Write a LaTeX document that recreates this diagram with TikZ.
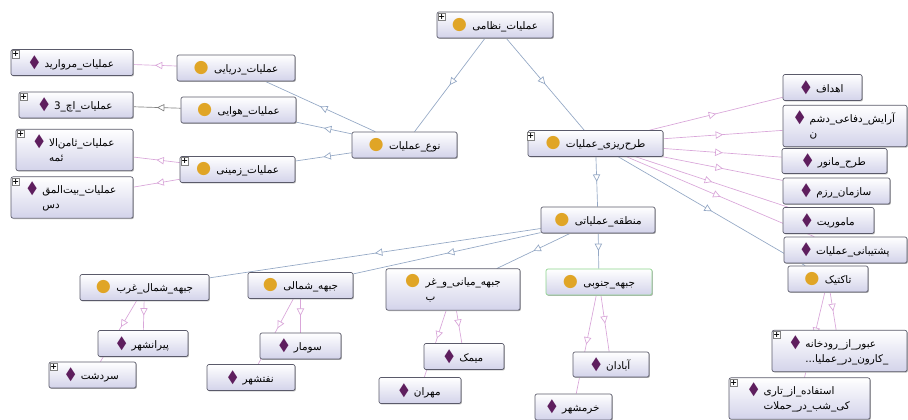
\documentclass[tikz,border=0pt]{standalone}
\usepackage{fontspec}
\usepackage{graphicx}
\usetikzlibrary{arrows.meta,decorations.markings,backgrounds,shadows}
\TeXXeTstate=1
\newfontfamily\arabicfont[Script=Arabic]{DejaVu Sans}
\newfontfamily\symfont{DejaVu Sans}
\definecolor{boxlav}{HTML}{D3D3EA}
\definecolor{boxline}{HTML}{5A5A6A}
\definecolor{clsgold}{HTML}{E0A526}
\definecolor{indplum}{HTML}{5E1E5E}
\definecolor{isablue}{HTML}{93A7C4}
\definecolor{ispink}{HTML}{D9A6D9}
\definecolor{southgreen}{HTML}{8CD48C}
\newcommand{\rtltext}[1]{\beginR#1\endR}
\newcommand{\twolines}[2]{\begin{tabular}[t]{@{}l@{}}\rtltext{#1}\\\rtltext{#2}\end{tabular}}
\newcommand{\clsicon}{{\symfont\fontsize{13}{13}\selectfont\textcolor{clsgold}{●}}\hspace{4pt}}
\newcommand{\indicon}{{\symfont\fontsize{12}{12}\selectfont\textcolor{indplum}{\scalebox{0.75}[1.15]{◆}}}\hspace{4pt}}
\tikzstyle{box}=[rectangle,
                 draw=boxline,
                 line width=0.5pt,
                 rounded corners=1.5pt,
                 top color=white,
                 bottom color=boxlav,
                 inner sep=2pt,
                 minimum height=19.5pt,
                 font=\arabicfont\fontsize{7.8}{11}\selectfont,
                 general shadow={shadow xshift=0.7pt, shadow yshift=-0.7pt, fill=black!30}]
\tikzstyle{cls}=[box]
\tikzstyle{ind}=[box]
\tikzstyle{tall}=[minimum height=31pt]
\tikzstyle{expander}=[rectangle,
                      draw=gray,
                      fill=white,
                      line width=0.4pt,
                      minimum size=5.5pt,
                      inner sep=0pt,
                      font=\symfont\bfseries\fontsize{6}{6}\selectfont]
\tikzset{isa/.style={color=isablue, line width=0.5pt, postaction={decorate},
                     decoration={markings, mark=at position #1 with
                       {\arrow{Triangle[length=5.5pt,width=5.5pt,fill=white]}}}},
         isa/.default=0.5,
         member/.style={isa=#1, color=ispink},
         member/.default=0.5}

\begin{document}
\begin{tikzpicture}[x=0.75pt,y=-0.75pt]
  \useasboundingbox (0,0) rectangle (908,420);

  % classes
  \node[cls, minimum width=87pt]     (mil)       at (495,25)    {\clsicon\rtltext{عملیات\_نظامی}};
  \node[cls, minimum width=78.75pt]  (kind)      at (404.5,145) {\clsicon\rtltext{نوع\_عملیات}};
  \node[cls, minimum width=101.25pt] (plan)      at (595.5,143.5) {\clsicon\rtltext{طرح‌ریزی\_عملیات}};
  \node[cls, minimum width=88.5pt]   (sea)       at (236,68)    {\clsicon\rtltext{عملیات\_دریایی}};
  \node[cls, minimum width=86.25pt]  (air)       at (238.5,110) {\clsicon\rtltext{عملیات\_هوایی}};
  \node[cls, minimum width=86.25pt]  (land)      at (237.5,169.5) {\clsicon\rtltext{عملیات\_زمینی}};
  \node[cls, minimum width=60pt]     (tactic)    at (828,279)   {\clsicon\rtltext{تاکتیک}};
  \node[cls, minimum width=85.5pt]   (zone)      at (598,220)   {\clsicon\rtltext{منطقه\_عملیاتی}};
  \node[cls, minimum width=79.5pt, draw=southgreen] (south) at (599,282) {\clsicon\rtltext{جبهه\_جنوبی}};
  \node[cls, tall, minimum width=100.5pt] (middle) at (453,289.5) {\clsicon\twolines{جبهه\_میانی\_و\_غر}{ب}};
  \node[cls, minimum width=78.75pt]  (north)     at (300.5,285.5) {\clsicon\rtltext{جبهه\_شمالی}};
  \node[cls, minimum width=96.75pt]  (northwest) at (144.5,287.5) {\clsicon\rtltext{جبهه\_شمال\_غرب}};

  % individuals
  \node[ind, minimum width=91.5pt]        (pearl)    at (72,62.5)   {\indicon\rtltext{عملیات\_مروارید}};
  \node[ind, minimum width=85.5pt]        (h3)       at (76,105)    {\indicon\rtltext{عملیات\_اچ\_3}};
  \node[ind, tall, minimum width=87.75pt] (samen)    at (74.5,150)  {\indicon\twolines{عملیات\_ثامن‌الا}{ئمه}};
  \node[ind, tall, minimum width=91.5pt]  (beit)     at (72,197.5)  {\indicon\twolines{عملیات\_بیت‌المق}{دس}};
  \node[ind, minimum width=59.25pt]       (goals)    at (822.5,87.5) {\indicon\rtltext{اهداف}};
  \node[ind, tall, minimum width=93pt]    (enemy)    at (845,126)   {\indicon\twolines{آرایش\_دفاعی\_دشم}{ن}};
  \node[ind, minimum width=78.75pt, minimum height=18.75pt] (maneuver) at (834.5,161) {\indicon\rtltext{طرح\_مانور}};
  \node[ind, minimum width=80.25pt]       (order)    at (836.5,191) {\indicon\rtltext{سازمان\_رزم}};
  \node[ind, minimum width=68.25pt]       (mission)  at (828.5,220.5) {\indicon\rtltext{ماموریت}};
  \node[ind, minimum width=92.25pt]       (support)  at (845.5,250) {\indicon\rtltext{پشتیبانی\_عملیات}};
  \node[ind, tall, minimum width=101.25pt] (crossing) at (839.5,351) {\indicon\twolines{عبور\_از\_رودخانه}{\_کارون\_در\_عملیا...}};
  \node[ind, tall, minimum width=105.75pt] (night)   at (799.5,398.5) {\indicon\twolines{استفاده\_از\_تاری}{کی\_شب\_در\_حملات}};
  \node[ind, minimum width=67.5pt]        (piran)    at (143,343.5) {\indicon\rtltext{پیرانشهر}};
  \node[ind, minimum width=65.25pt]       (sardasht) at (92.5,375)  {\indicon\rtltext{سردشت}};
  \node[ind, minimum width=60.75pt]       (sumar)    at (300.5,346) {\indicon\rtltext{سومار}};
  \node[ind, minimum width=66pt]          (naft)     at (251,377.5) {\indicon\rtltext{نفتشهر}};
  \node[ind, minimum width=60pt]          (mimak)    at (464,356.5) {\indicon\rtltext{میمک}};
  \node[ind, minimum width=61.5pt]        (mehran)   at (420,390.5) {\indicon\rtltext{مهران}};
  \node[ind, minimum width=57pt, minimum height=18.75pt] (abadan) at (611,364.5) {\indicon\rtltext{آبادان}};
  \node[ind, minimum width=57.75pt]       (khorram)  at (573.5,407) {\indicon\rtltext{خرمشهر}};

  % expand markers
  \node[expander] (mil-x)      at ([shift={(5,5)}]mil.north west)      {+};
  \node[expander] (plan-x)     at ([shift={(3,6)}]plan.north west)     {+};
  \node[expander] (land-x)     at ([shift={(5,5)}]land.north west)     {+};
  \node[expander] (pearl-x)    at ([shift={(5,5)}]pearl.north west)    {+};
  \node[expander] (h3-x)       at ([shift={(5,5)}]h3.north west)       {+};
  \node[expander] (samen-x)    at ([shift={(5,5)}]samen.north west)    {+};
  \node[expander] (beit-x)     at ([shift={(5,5)}]beit.north west)     {+};
  \node[expander] (sardasht-x) at ([shift={(5,5)}]sardasht.north west) {+};
  \node[expander] (crossing-x) at ([shift={(5,5)}]crossing.north west) {+};
  \node[expander] (night-x)    at ([shift={(5,5)}]night.north west)    {+};

  \begin{scope}[on background layer]
    % subclasses
    \draw[isa] (mil) -- (kind);
    \draw[isa] (mil) -- (plan);
    \draw[isa] (kind) -- (sea);
    \draw[isa] (kind) -- (air);
    \draw[isa] (kind) -- (land);
    \draw[isa] (plan) -- (zone);
    \draw[isa] (plan) -- (tactic);
    \draw[isa] (zone) -- (south);
    \draw[isa] (zone) -- (middle);
    \draw[isa] (zone) -- (north);
    \draw[isa] (zone) -- (northwest);

    % instances
    \draw[member] (sea) -- (pearl);
    \draw[isa, color=gray] (air) -- (h3);
    \draw[member] (land) -- (samen);
    \draw[member] (land) -- (beit);
    \draw[member] (plan) -- (goals);
    \draw[member] (plan) -- (enemy);
    \draw[member] (plan) -- (maneuver);
    \draw[member] (plan) -- (order);
    \draw[member] (plan) -- (mission);
    \draw[member] (plan) -- (support);
    \draw[member] (northwest) -- (piran);
    \draw[member=0.43] (northwest) -- (sardasht);
    \draw[member] (north) -- (sumar);
    \draw[member=0.45] (north) -- (naft);
    \draw[member] (middle) -- (mimak);
    \draw[member=0.42] (middle) -- (mehran);
    \draw[member] (south) -- (abadan);
    \draw[member] (south) -- (khorram);
    \draw[member] (tactic) -- (crossing);
    \draw[member] (tactic) -- (night);
  \end{scope}
\end{tikzpicture}
\end{document}
